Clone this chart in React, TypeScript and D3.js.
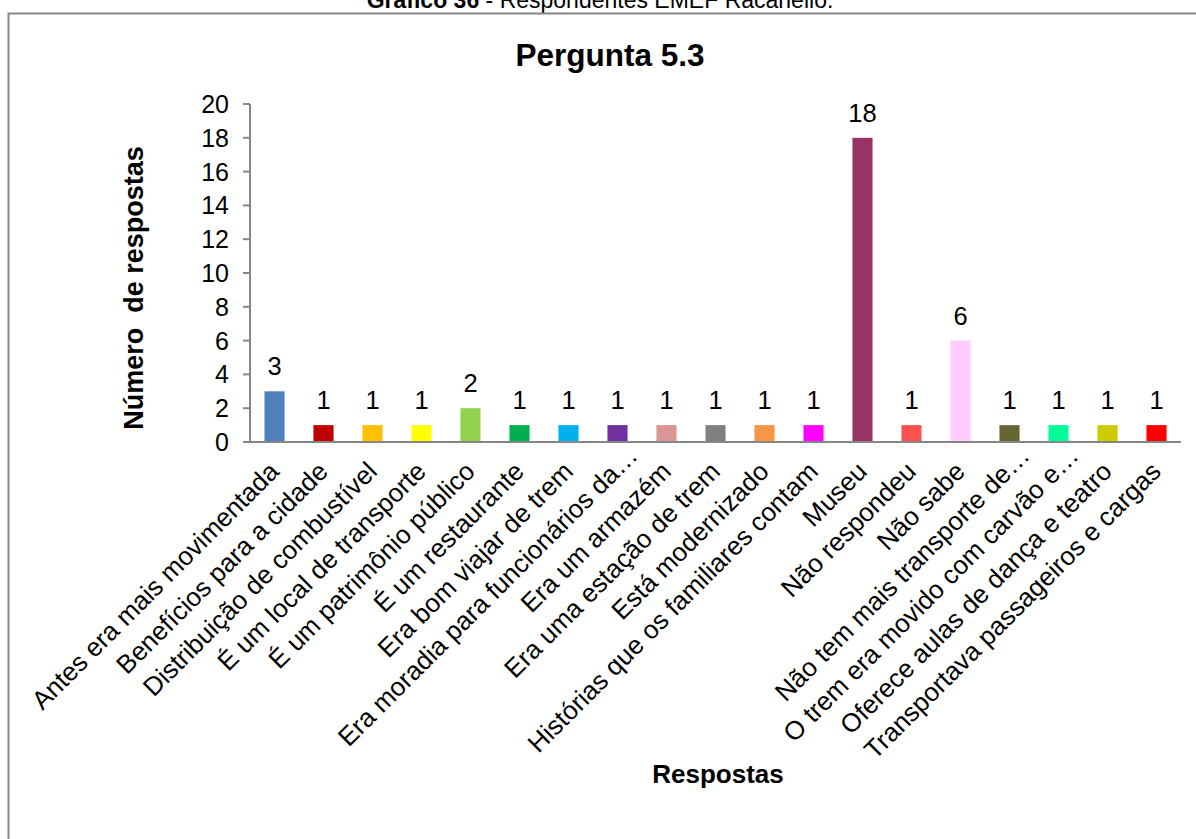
import React from "react";
import * as d3 from "d3";

const categories: string[] = [
  "Antes era mais movimentada",
  "Benefícios para a cidade",
  "Distribuição de combustível",
  "É um local de transporte",
  "É um patrimônio público",
  "É um restaurante",
  "Era bom viajar de trem",
  "Era moradia para funcionários da…",
  "Era um armazém",
  "Era uma estação de trem",
  "Está modernizado",
  "Histórias que os familiares contam",
  "Museu",
  "Não respondeu",
  "Não sabe",
  "Não tem mais transporte de…",
  "O trem era movido com carvão e…",
  "Oferece aulas de dança e teatro",
  "Transportava passageiros e cargas",
];

const values: number[] = [3, 1, 1, 1, 2, 1, 1, 1, 1, 1, 1, 1, 18, 1, 6, 1, 1, 1, 1];

const colors: string[] = [
  "#4F81BD", "#C00000", "#FFC000", "#FFFF00", "#92D050", "#00B050", "#00B0F0",
  "#7030A0", "#DA9694", "#808080", "#F79646", "#FF00FF", "#993366", "#FF5050",
  "#FFCCFF", "#666633", "#00FF99", "#CCCC00", "#FF0000",
];

const yTicks: number[] = [0, 2, 4, 6, 8, 10, 12, 14, 16, 18, 20];

const FONT = "'Liberation Sans', Arial, sans-serif";

export default function App() {
  const W = 1196;
  const H = 839;
  const left = 250;
  const right = 1181;
  const top = 104;
  const bottom = 442;

  const x = d3.scaleBand<string>().domain(categories).range([left, right]).paddingInner(0.59).paddingOuter(0.295);
  const y = d3.scaleLinear().domain([0, 20]).range([bottom, top]);

  return (
    <svg width={W} height={H} style={{ position: "absolute", left: 0, top: 0, background: "#fff" }} fontFamily={FONT}>
      <rect x={0} y={0} width={W} height={H} fill="#fff" />
      <text x={600} y={8} textAnchor="middle" fontSize={23} fill="#000">
        <tspan fontWeight="bold">Gráfico 36</tspan>
        <tspan> - Respondentes EMEF Racanello.</tspan>
      </text>
      <rect x={8.5} y={13.5} width={W + 20} height={H + 20} fill="none" stroke="#868686" strokeWidth={2} />
      <text x={610} y={66} textAnchor="middle" fontSize={31.5} fontWeight="bold">Pergunta 5.3</text>

      {/* y axis */}
      <line x1={left} x2={left} y1={top} y2={bottom} stroke="#868686" strokeWidth={2} />
      {yTicks.map((t) => (
        <g key={t}>
          <line x1={left - 7} x2={left} y1={y(t)} y2={y(t)} stroke="#868686" strokeWidth={2} />
          <text x={left - 21} y={y(t)} dy="0.36em" textAnchor="end" fontSize={25}>{t}</text>
        </g>
      ))}

      {/* bars */}
      {categories.map((c, i) => (
        <rect key={c} x={x(c)} y={y(values[i])} width={x.bandwidth()} height={bottom - y(values[i])} fill={colors[i]} />
      ))}
      {/* x axis */}
      <line x1={left - 7} x2={right} y1={bottom} y2={bottom} stroke="#868686" strokeWidth={2} />

      {categories.map((c, i) => (
        <text key={"v" + c} x={(x(c) as number) + x.bandwidth() / 2} y={y(values[i]) - 16} textAnchor="middle" fontSize={25.5}>
          {values[i]}
        </text>
      ))}

      {categories.map((c) => {
        const cx = (x(c) as number) + x.bandwidth() / 2;
        const shift = c.endsWith("…") ? 22 : 0;
        return (
          <text key={"l" + c} transform={`translate(${cx + 6},${bottom + 31}) rotate(-45)`} x={shift} textAnchor="end" fontSize={26}>
            {c}
          </text>
        );
      })}

      <text transform={`translate(143,288) rotate(-90)`} textAnchor="middle" fontSize={27} fontWeight="bold" style={{ whiteSpace: "pre" }}>
        {"Número  de respostas"}
      </text>
      <text x={718} y={783} textAnchor="middle" fontSize={26} fontWeight="bold">Respostas</text>
    </svg>
  );
}
